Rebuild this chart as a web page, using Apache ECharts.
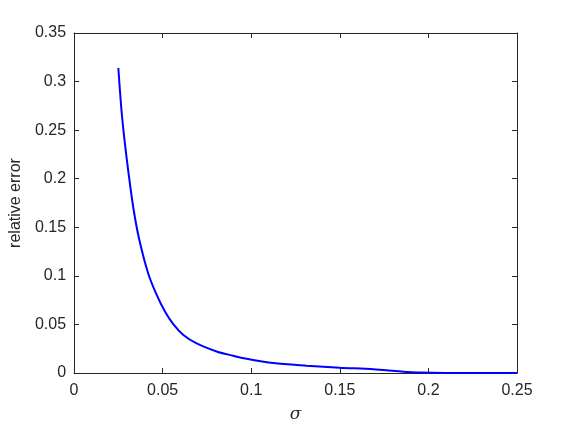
<!DOCTYPE html>
<html>
<head>
<meta charset="utf-8">
<script src="https://cdn.jsdelivr.net/npm/echarts@6/dist/echarts.min.js"></script>
<style>
  html, body { margin: 0; padding: 0; background: #fff; }
  #chart { width: 571px; height: 428px; }
</style>
</head>
<body>
<div id="chart"></div>
<script>
// sigma values
const sigma = [0.025, 0.0268, 0.0286, 0.0307, 0.0335, 0.0367, 0.0419, 0.0467, 0.0514, 0.056,
  0.0617, 0.0692, 0.0805, 0.0899, 0.0937, 0.1125, 0.1313, 0.150, 0.169, 0.184, 0.195, 0.21, 0.25]
// relative error at each sigma
const relError = [0.314, 0.270, 0.238, 0.2064, 0.1696, 0.1382, 0.1022, 0.0802, 0.0631, 0.0503,
  0.0392, 0.0305, 0.0222, 0.0177, 0.0160, 0.0102, 0.0075, 0.0055, 0.0038, 0.0017, 0.0005, 0, 0]
const xTicks = [0, 0.05, 0.1, 0.15, 0.2, 0.25]
const yTicks = [0, 0.05, 0.1, 0.15, 0.2, 0.25, 0.3, 0.35]

const axisColor = '#262626'
const labelStyle = { color: axisColor, fontSize: 16, fontFamily: 'Liberation Sans, Arial, sans-serif' }

const boxAxis = (extra) => Object.assign({
  type: 'value',
  axisLine: { show: true, onZero: false, lineStyle: { color: axisColor, width: 1 } },
  axisTick: { show: true, inside: true, length: 5, lineStyle: { color: axisColor } },
  splitLine: { show: false }
}, extra)

const chart = echarts.init(document.getElementById('chart'))
chart.setOption({
  animation: false,
  grid: { left: 74, top: 33, right: 54, bottom: 53 },
  xAxis: [
    boxAxis({
      min: xTicks[0],
      max: xTicks[xTicks.length - 1],
      interval: 0.05,
      position: 'bottom',
      name: 'σ',
      nameLocation: 'middle',
      nameGap: 33,
      nameTextStyle: { color: axisColor, fontSize: 17, fontStyle: 'italic', fontFamily: 'DejaVu Serif, serif' },
      axisLabel: Object.assign({ margin: 10 }, labelStyle)
    }),
    boxAxis({
      min: xTicks[0],
      max: xTicks[xTicks.length - 1],
      interval: 0.05,
      position: 'top',
      axisLabel: { show: false }
    })
  ],
  yAxis: [
    boxAxis({
      min: yTicks[0],
      max: yTicks[yTicks.length - 1],
      interval: 0.05,
      position: 'left',
      name: 'relative error',
      nameLocation: 'middle',
      nameGap: 50,
      nameTextStyle: { color: axisColor, fontSize: 16, fontFamily: 'Liberation Sans, Arial, sans-serif' },
      axisLabel: Object.assign({ margin: 8 }, labelStyle)
    }),
    boxAxis({
      min: yTicks[0],
      max: yTicks[yTicks.length - 1],
      interval: 0.05,
      position: 'right',
      axisLabel: { show: false }
    })
  ],
  series: [
    {
      type: 'line',
      smooth: 0.3,
      showSymbol: false,
      lineStyle: { color: '#0000ff', width: 2 },
      data: sigma.map((s, i) => [s, relError[i]])
    }
  ]
})
</script>
</body>
</html>
